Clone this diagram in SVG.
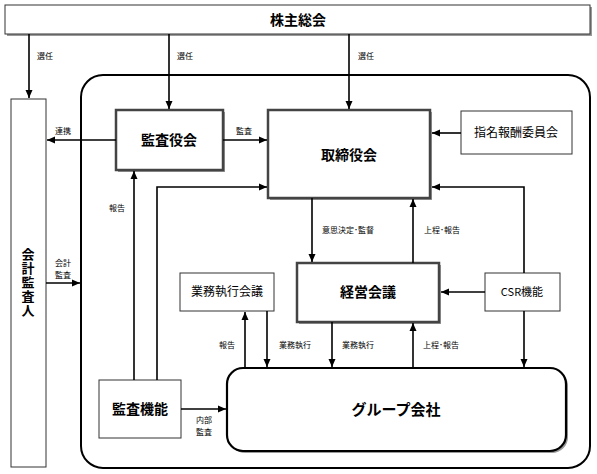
<svg xmlns="http://www.w3.org/2000/svg" width="597" height="474" viewBox="0 0 597 474">
<style>
text{font-family:"Noto Sans CJK JP","Liberation Sans",sans-serif;fill:#000;text-anchor:middle}
.lbl{font-size:8px}
.b{font-weight:bold}
.thin{fill:#fff;stroke:#333;stroke-width:1}
.thick{fill:#fff;stroke:#444;stroke-width:2.5}
.sh{fill:#999}
.c{fill:none;stroke:#000;stroke-width:1.6}
</style>
<defs>
<marker id="ah" viewBox="0 0 8 8" refX="8" refY="4" markerWidth="8" markerHeight="8" markerUnits="userSpaceOnUse" orient="auto">
<path d="M0,0.5 L8,4 L0,7.5 z" fill="#000"/>
</marker>
</defs>
<g id="container">
<rect x="81" y="75" width="509" height="393" rx="22" fill="#fff" stroke="#000" stroke-width="2"/>
</g>
<g id="shareholders">
<rect class="sh" x="7" y="7" width="585" height="29"/>
<rect class="thin" x="5" y="5" width="585" height="29"/>
<text class="b" x="298" y="25" font-size="14">株主総会</text>
</g>
<g id="auditor">
<rect class="thin" x="11" y="99" width="35" height="368"/>
<text class="b" x="28" y="283" font-size="13" writing-mode="vertical-rl" letter-spacing="1">会計監査人</text>
</g>
<g id="kansayakukai">
<rect class="sh" x="118" y="112" width="107" height="60"/>
<rect class="thick" x="116" y="110" width="107" height="60"/>
<text class="b" x="169" y="145" font-size="14">監査役会</text>
</g>
<g id="torishimariyakukai">
<rect class="sh" x="270" y="112" width="162" height="88"/>
<rect class="thick" x="268" y="110" width="162" height="88"/>
<text class="b" x="349" y="160" font-size="14">取締役会</text>
</g>
<g id="shimei">
<rect class="thin" x="461" y="111" width="111" height="43"/>
<text x="516" y="137" font-size="12">指名報酬委員会</text>
</g>
<g id="keieikaigi">
<rect class="sh" x="299" y="265" width="142" height="59"/>
<rect class="thick" x="297" y="263" width="142" height="59"/>
<text class="b" x="368" y="297" font-size="14">経営会議</text>
</g>
<g id="csr">
<rect class="thin" x="485" y="273" width="75" height="38"/>
<text x="522" y="296" font-size="11">CSR機能</text>
</g>
<g id="gyomushikko">
<rect class="thin" x="180" y="273" width="94" height="38"/>
<text x="227" y="296" font-size="12">業務執行会議</text>
</g>
<g id="kansakino">
<rect class="thin" x="99" y="380" width="82" height="58"/>
<text class="b" x="140" y="414" font-size="14">監査機能</text>
</g>
<g id="group">
<rect x="229" y="370" width="339" height="83" rx="16" class="sh"/>
<rect x="227" y="368" width="339" height="83" rx="16" fill="#fff" stroke="#000" stroke-width="2.2"/>
<text class="b" x="396" y="415" font-size="15">グループ会社</text>
</g>
<g id="connectors">
<path class="c" d="M29,34 V98" marker-end="url(#ah)"/>
<path class="c" d="M169,34 V109" marker-end="url(#ah)"/>
<path class="c" d="M349,34 V109" marker-end="url(#ah)"/>
<path class="c" d="M116,140 H47" marker-end="url(#ah)"/>
<path class="c" d="M223,140 H267" marker-end="url(#ah)"/>
<path class="c" d="M461,133 H432" marker-end="url(#ah)"/>
<path class="c" d="M524,273 V187 H432" marker-end="url(#ah)"/>
<path class="c" d="M157,380 V187 H267" marker-end="url(#ah)"/>
<path class="c" d="M134,380 V171" marker-end="url(#ah)"/>
<path class="c" d="M46,283 H80" marker-end="url(#ah)"/>
<path class="c" d="M312,198 V262" marker-end="url(#ah)"/>
<path class="c" d="M413,263 V199" marker-end="url(#ah)"/>
<path class="c" d="M485,292 H441" marker-end="url(#ah)"/>
<path class="c" d="M524,311 V367" marker-end="url(#ah)"/>
<path class="c" d="M245,368 V312" marker-end="url(#ah)"/>
<path class="c" d="M267,311 V367" marker-end="url(#ah)"/>
<path class="c" d="M332,322 V367" marker-end="url(#ah)"/>
<path class="c" d="M413,368 V323" marker-end="url(#ah)"/>
<path class="c" d="M181,409 H226" marker-end="url(#ah)"/>
<text class="lbl" x="45" y="59">選任</text>
<text class="lbl" x="185" y="59">選任</text>
<text class="lbl" x="366" y="59">選任</text>
<text class="lbl" x="63" y="134">連携</text>
<text class="lbl" x="244" y="134">監査</text>
<text class="lbl" x="117" y="211">報告</text>
<text class="lbl" x="63" y="266">会計</text>
<text class="lbl" x="63" y="278">監査</text>
<text class="lbl" x="348" y="233">意思決定･監督</text>
<text class="lbl" x="442" y="233">上程･報告</text>
<text class="lbl" x="227" y="348">報告</text>
<text class="lbl" x="295" y="348">業務執行</text>
<text class="lbl" x="358" y="348">業務執行</text>
<text class="lbl" x="441" y="348">上程･報告</text>
<text class="lbl" x="204" y="423">内部</text>
<text class="lbl" x="204" y="435">監査</text>
</g>
</svg>
